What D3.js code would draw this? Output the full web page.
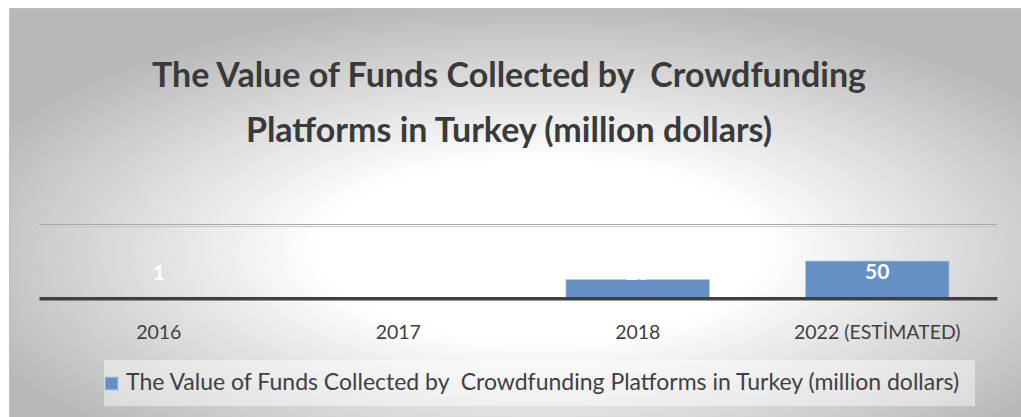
<!DOCTYPE html>
<html>
<head>
<meta charset="utf-8">
<script src="https://cdn.jsdelivr.net/npm/d3@7"></script>
<style>
  html, body { margin: 0; padding: 0; background: #ffffff; }
  svg { display: block; }
  text { white-space: pre; }
</style>
</head>
<body>
<svg id="chart" width="1021" height="417"></svg>
<script>
// Chart data
const categories = ["2016", "2017", "2018", "2022 (ESTİMATED)"];
const values = [1, null, 25, 50];
const seriesName = "The Value of Funds Collected by  Crowdfunding Platforms in Turkey (million dollars)";
const titleLines = ["The Value of Funds Collected by  Crowdfunding", "Platforms in Turkey (million dollars)"];
const gridTicks = [100];

const W = 1021, H = 417;
const svg = d3.select("#chart");
const FONT = "Lato, 'Open Sans', sans-serif";

// Background: radial fade from white centre to grey edges
const defs = svg.append("defs");
const rg = defs.append("radialGradient")
  .attr("id", "bg")
  .attr("cx", "0.52").attr("cy", "0.58").attr("r", "0.6")
  .attr("fx", "0.52").attr("fy", "0.58");
rg.append("stop").attr("offset", "0").attr("stop-color", "#ffffff");
rg.append("stop").attr("offset", "0.36").attr("stop-color", "#ffffff");
rg.append("stop").attr("offset", "1").attr("stop-color", "#b8b8b8");

svg.append("rect")
  .attr("x", 9.5).attr("y", 8.5)
  .attr("width", W).attr("height", H)
  .attr("fill", "url(#bg)")
  .attr("stroke", "#bcbcbc").attr("stroke-width", 1);

// Title
svg.append("g").selectAll("text")
  .data(titleLines)
  .join("text")
  .attr("x", 509)
  .attr("y", (d, i) => 87 + i * 55)
  .attr("text-anchor", "middle")
  .attr("font-family", FONT)
  .attr("font-weight", "bold")
  .attr("font-size", 34)
  .attr("fill", "#3a3a3a")
  .text(d => d);

// Scales
const x = d3.scaleBand()
  .domain(categories)
  .range([39, 997])
  .paddingInner(0.4)
  .paddingOuter(0.2);

const y = d3.scaleLinear()
  .domain([0, 100])
  .range([298, 224]);

// Horizontal gridline
const grid = svg.append("g")
  .attr("transform", `translate(${x.range()[0]},0)`)
  .call(d3.axisLeft(y).tickValues(gridTicks).tickSize(-(x.range()[1] - x.range()[0])).tickFormat(""));
grid.select(".domain").remove();
grid.selectAll(".tick line").attr("stroke", "#a9a9a9").attr("stroke-width", 1.2);
grid.selectAll(".tick").append("line")
  .attr("x1", 0).attr("x2", x.range()[1] - x.range()[0])
  .attr("y1", 2).attr("y2", 2)
  .attr("stroke", "#c6c6c6").attr("stroke-width", 1.2);

// Bars
const barData = categories.map((c, i) => ({ cat: c, v: values[i] })).filter(d => d.v != null);

svg.append("g").selectAll("rect")
  .data(barData)
  .join("rect")
  .attr("x", d => x(d.cat))
  .attr("y", d => y(d.v))
  .attr("width", x.bandwidth())
  .attr("height", d => y(0) - y(d.v))
  .attr("fill", "#668fc4")
  .attr("stroke", "#b7cbe6")
  .attr("stroke-width", 0.8);

// Category axis
const xAxis = svg.append("g")
  .attr("transform", `translate(0,${y(0)})`)
  .call(d3.axisBottom(x).tickSize(0).tickPadding(27));
xAxis.select(".domain")
  .attr("stroke", "#404040").attr("stroke-width", 3.4)
  .attr("transform", "translate(0,0.3)");
xAxis.selectAll(".tick text")
  .attr("font-family", FONT)
  .attr("font-size", 19.5)
  .attr("fill", "#404040");

// Value labels
svg.append("g").selectAll("text")
  .data(barData)
  .join("text")
  .attr("x", d => x(d.cat) + x.bandwidth() / 2)
  .attr("y", d => Math.min(y(d.v) + 18, y(0) - 18))
  .attr("text-anchor", "middle")
  .attr("font-family", FONT)
  .attr("font-weight", "bold")
  .attr("font-size", 21)
  .attr("fill", "#ffffff")
  .text(d => d.v);

// Legend
const legend = svg.append("g");
legend.append("rect")
  .attr("x", 104).attr("y", 360)
  .attr("width", 871).attr("height", 46)
  .attr("fill", "#ffffff").attr("fill-opacity", 0.45);
legend.append("rect")
  .attr("x", 105).attr("y", 377)
  .attr("width", 13).attr("height", 13)
  .attr("fill", "#668fc4")
  .attr("stroke", "#b7cbe6").attr("stroke-width", 1);
legend.append("text")
  .attr("x", 126).attr("y", 390)
  .attr("font-family", FONT)
  .attr("font-size", 23)
  .attr("fill", "#404040")
  .text(seriesName);
</script>
</body>
</html>
